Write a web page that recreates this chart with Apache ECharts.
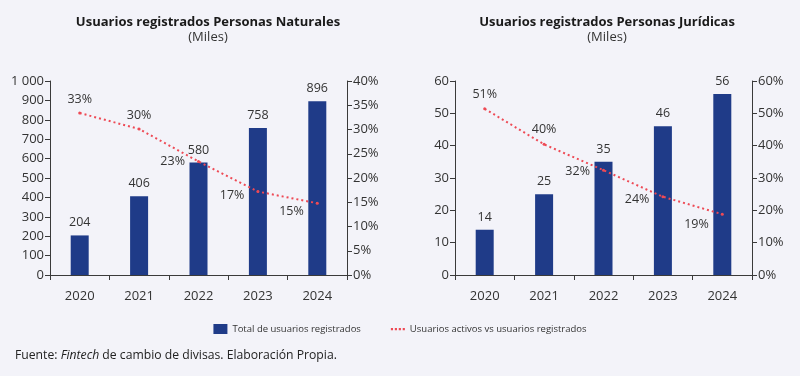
<!DOCTYPE html>
<html>
<head>
<meta charset="utf-8">
<script src="https://cdn.jsdelivr.net/npm/echarts@6/dist/echarts.min.js"></script>
<style>
  html, body { margin: 0; padding: 0; background: #f3f3f9; }
  #main { width: 800px; height: 376px; }
</style>
</head>
<body>
<div id="main"></div>
<script>
var years = ['2020', '2021', '2022', '2023', '2024'];

// Personas Naturales (miles) y % activos
var naturalesTotal = [204, 406, 580, 758, 896];
var naturalesActivos = [33.4, 30.1, 23.4, 17.2, 14.8];

// Personas Juridicas (miles) y % activos
var juridicasTotal = [14, 25, 35, 46, 56];
var juridicasActivos = [51.4, 40.4, 32.4, 24.2, 18.8];

var nombreBarras = 'Total de usuarios registrados';
var nombreLinea = 'Usuarios activos vs usuarios registrados';

var fontName = '"Open Sans", "Noto Sans", sans-serif';
var azul = '#1f3b88';
var rojo = '#ee4a55';
var eje = '#3a3a3a';

// posiciones de las etiquetas de la linea (solo estilo)
var posNat = [
    { position: 'top', distance: 6 },
    { position: 'top', distance: 6 },
    { position: 'left', offset: [0, 0] },
    { position: 'left', offset: [0, 4] },
    { position: 'left', offset: [0, 8] }
];
var posJur = [
    { position: 'top', distance: 6 },
    { position: 'top', distance: 7 },
    { position: 'left', offset: [0, 1] },
    { position: 'left', offset: [0, 3] },
    { position: 'left', offset: [0, 10] }
];

function lineData(vals, pos) {
    var out = [];
    for (var i = 0; i < vals.length; i++) {
        out.push({ value: vals[i], label: pos[i] });
    }
    return out;
}

function xAxisCfg(gi) {
    return {
        type: 'category', gridIndex: gi, data: years,
        axisLine: { lineStyle: { color: eje, width: 1 } },
        axisTick: { show: true, length: 5, lineStyle: { color: eje } },
        axisLabel: { color: '#333', fontSize: 13, margin: 15, fontFamily: fontName }
    };
}

function yAxisCfg(gi, max, interval, pos, pct) {
    return {
        type: 'value', gridIndex: gi, min: 0, max: max, interval: interval, position: pos,
        splitLine: { show: false },
        axisLine: { show: true, lineStyle: { color: eje, width: 1 } },
        axisTick: { show: true, length: 5, lineStyle: { color: eje } },
        axisLabel: {
            color: '#333', fontSize: 13, margin: 6, fontFamily: fontName,
            formatter: function (v) {
                if (pct) return v + '%';
                return v >= 1000 ? '1 000' : String(v);
            }
        }
    };
}

var iconPuntos = 'path://M0,0 M0,4h2.4v2.4h-2.4z M4.4,4h2.4v2.4h-2.4z M8.8,4h2.4v2.4h-2.4z M13.2,4h2.4v2.4h-2.4z M15.6,10';

var option = {
    backgroundColor: '#f3f3f9',
    animation: false,
    textStyle: { fontFamily: fontName },
    title: [
        {
            text: 'Usuarios registrados Personas Naturales',
            subtext: '(Miles)',
            left: 203, top: 11, textAlign: 'center', itemGap: 2,
            textStyle: { fontSize: 13, fontWeight: 'bold', color: '#1a1a1a', fontFamily: fontName },
            subtextStyle: { fontSize: 13, color: '#333', fontFamily: fontName }
        },
        {
            text: 'Usuarios registrados Personas Jurídicas',
            subtext: '(Miles)',
            left: 602, top: 11, textAlign: 'center', itemGap: 2,
            textStyle: { fontSize: 13, fontWeight: 'bold', color: '#1a1a1a', fontFamily: fontName },
            subtextStyle: { fontSize: 13, color: '#333', fontFamily: fontName }
        }
    ],
    legend: {
        left: 'center', top: 319, itemGap: 30,
        itemWidth: 14, itemHeight: 10,
        textStyle: { fontSize: 9.5, color: '#333', fontFamily: fontName },
        data: [
            { name: nombreBarras, icon: 'rect' },
            { name: nombreLinea, icon: iconPuntos }
        ]
    },
    grid: [
        { left: 50, right: 453, top: 81, bottom: 101 },
        { left: 455, right: 48, top: 81, bottom: 101 }
    ],
    xAxis: [xAxisCfg(0), xAxisCfg(1)],
    yAxis: [
        yAxisCfg(0, 1000, 100, 'left', false),
        yAxisCfg(0, 40, 5, 'right', true),
        yAxisCfg(1, 60, 10, 'left', false),
        yAxisCfg(1, 60, 10, 'right', true)
    ],
    series: [
        {
            name: nombreBarras, type: 'bar', xAxisIndex: 0, yAxisIndex: 0,
            data: naturalesTotal, barWidth: 18,
            itemStyle: { color: azul },
            label: { show: true, position: 'top', distance: 6, color: '#333', fontSize: 12.5 }
        },
        {
            name: nombreLinea, type: 'line', xAxisIndex: 0, yAxisIndex: 1,
            data: lineData(naturalesActivos, posNat), symbol: 'circle', symbolSize: 3, z: 5,
            lineStyle: { color: rojo, width: 2, type: [2, 3] },
            itemStyle: { color: rojo },
            label: {
                show: true, color: '#333', fontSize: 12.5, distance: 12,
                formatter: function (p) { return Math.round(p.value) + '%'; }
            }
        },
        {
            name: nombreBarras, type: 'bar', xAxisIndex: 1, yAxisIndex: 2,
            data: juridicasTotal, barWidth: 18,
            itemStyle: { color: azul },
            label: { show: true, position: 'top', distance: 6, color: '#333', fontSize: 12.5 }
        },
        {
            name: nombreLinea, type: 'line', xAxisIndex: 1, yAxisIndex: 3,
            data: lineData(juridicasActivos, posJur), symbol: 'circle', symbolSize: 3, z: 5,
            lineStyle: { color: rojo, width: 2, type: [2, 3] },
            itemStyle: { color: rojo },
            label: {
                show: true, color: '#333', fontSize: 12.5, distance: 12,
                formatter: function (p) { return Math.round(p.value) + '%'; }
            }
        }
    ],
    graphic: [
        {
            type: 'text', left: 15, top: 350,
            style: {
                text: '{n|Fuente: }{i|Fintech}{n| de cambio de divisas. Elaboración Propia.}',
                rich: {
                    n: { fontSize: 12.2, fill: '#222', fontFamily: fontName },
                    i: { fontSize: 12.2, fill: '#222', fontStyle: 'italic', fontFamily: fontName }
                }
            }
        }
    ]
};

var chart = echarts.init(document.getElementById('main'));
chart.setOption(option);
</script>
</body>
</html>
